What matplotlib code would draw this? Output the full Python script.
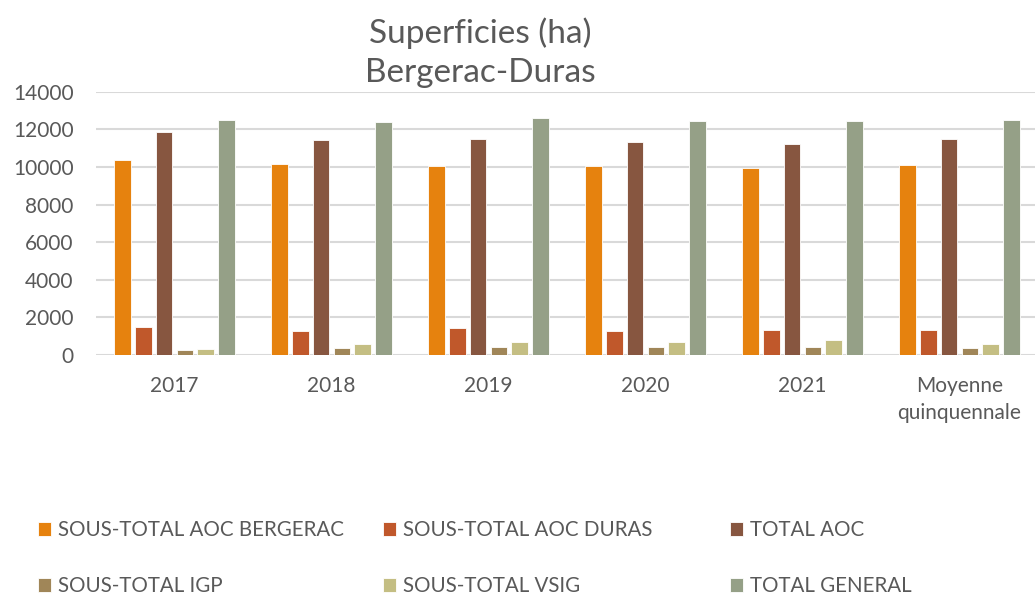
import numpy as np
import matplotlib
matplotlib.use("Agg")
import matplotlib.pyplot as plt

plt.rcParams['font.family'] = ['Lato', 'DejaVu Sans']

# Données (ha)
categories = ['2017', '2018', '2019', '2020', '2021', 'Moyenne\nquinquennale']
series_names = ['SOUS-TOTAL AOC BERGERAC', 'SOUS-TOTAL AOC DURAS', 'TOTAL AOC',
                'SOUS-TOTAL IGP', 'SOUS-TOTAL VSIG', 'TOTAL GENERAL']
aoc_bergerac = [10370, 10140, 10065, 10050, 9925, 10120]
aoc_duras = [1470, 1280, 1420, 1260, 1310, 1345]
total_aoc = [11860, 11450, 11485, 11325, 11220, 11470]
igp = [270, 370, 425, 425, 445, 375]
vsig = [335, 585, 675, 675, 780, 605]
total_general = [12480, 12390, 12585, 12460, 12460, 12480]
colors = ['#E6820E', '#C0582B', '#875640', '#A08658', '#C4BE83', '#95A087']

values = [aoc_bergerac, aoc_duras, total_aoc, igp, vsig, total_general]
grey = '#595959'

fig = plt.figure(figsize=(10.35, 5.96), dpi=100)
ax = fig.add_axes([96 / 1035, 1 - 355 / 596, 942 / 1035, (355 - 91.7) / 596])

x = np.arange(len(categories))
slot = 0.133
bars = []
for i, (vals, col) in enumerate(zip(values, colors)):
    b = ax.bar(x + (i - 2.5) * slot, vals, width=slot * 0.8, color=col,
               edgecolor='white', linewidth=0.6, zorder=3)
    bars.append(b)

ax.set_xlim(-0.5, len(categories) - 0.5)
ax.set_ylim(0, 14000)
ax.set_yticks(range(0, 14001, 2000))
ax.grid(axis='y', color='#D9D9D9', linewidth=1.5, zorder=0)
for s in ax.spines.values():
    s.set_visible(False)
ax.tick_params(axis='both', length=0, colors=grey, labelsize=15)
ax.tick_params(axis='x', pad=15)
ax.tick_params(axis='y', pad=16)
ax.set_xticks(x)
ax.set_xticklabels(categories, linespacing=1.45)

fig.text(480 / 1035, 1 - 53 / 596, 'Superficies (ha)\nBergerac-Duras', ha='center',
         va='center', fontsize=24, color=grey, linespacing=1.38)

# légende sur deux lignes
leg_x = [38 / 1035, 383 / 1035, 730 / 1035]
leg_y = [1 - 530 / 596, 1 - 586 / 596]
for i, (name, b) in enumerate(zip(series_names, bars)):
    fig.legend([b], [name], loc='center left',
               bbox_to_anchor=(leg_x[i % 3], leg_y[i // 3]), frameon=False,
               handlelength=0.65, handleheight=0.7, handletextpad=0.3,
               borderaxespad=0, borderpad=0, labelcolor=grey, fontsize=14.8)

fig.savefig('out.png', dpi=100)
